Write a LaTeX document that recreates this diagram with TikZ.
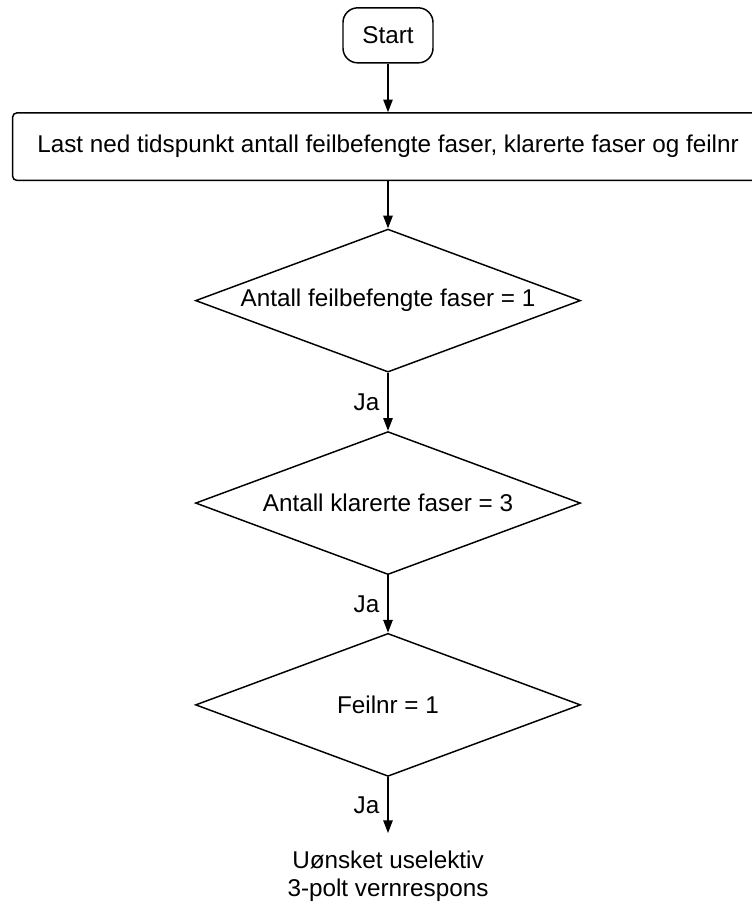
\documentclass[tikz,border=0pt]{standalone}
\usepackage{fontspec}
\setmainfont{Liberation Sans}
\usepackage{tikz}
\usetikzlibrary{positioning,shapes,arrows.meta}
\tikzstyle{terminal}=[rectangle, draw=black, rounded corners=11pt, minimum width=67.5pt, minimum height=41.25pt, text centered]
\tikzstyle{process}=[rectangle, draw=black, rounded corners=3pt, minimum width=563pt, minimum height=50.5pt, text centered]
\tikzstyle{decision}=[diamond, draw=black, aspect=2.7, inner sep=0pt, minimum width=288.75pt, minimum height=107.25pt, text centered]
\tikzstyle{answer}=[midway, left=6pt, inner sep=0pt]
\tikzset{>={Triangle[length=9.5pt,width=7pt]}}

\begin{document}
\begin{tikzpicture}[line width=1.1pt, font=\fontsize{18.2}{21}\selectfont]

        \useasboundingbox (0,0) rectangle (564pt,-678pt);
        \clip (0,0) rectangle (564pt,-678pt);

        \node(start)[terminal] at (291pt,-26.5pt) {Start};
        \node(load)[process, below=36.5pt of start]{Last ned tidspunkt antall feilbefengte faser, klarerte faser og feilnr};

        \node(dec1)[decision, below=35.5pt of load]{Antall feilbefengte faser = 1};
        \node(dec2)[decision, below=43.5pt of dec1]{Antall klarerte faser = 3};
        \node(dec3)[decision, below=43pt of dec2]{Feilnr = 1};

        \node(result)[below=55pt of dec3, align=center, inner sep=0pt]{Uønsket uselektiv\\3-polt vernrespons};

        \draw [->] (start) -- (load);
        \draw [->] (load) -- (dec1);
        \draw [->] (dec1) -- node[answer]{Ja} (dec2);
        \draw [->] (dec2) -- node[answer]{Ja} (dec3);
        \draw [->, shorten >=13pt] (dec3.south) -- node[answer, yshift=6.5pt]{Ja} (result.north);

    \end{tikzpicture}
\end{document}
